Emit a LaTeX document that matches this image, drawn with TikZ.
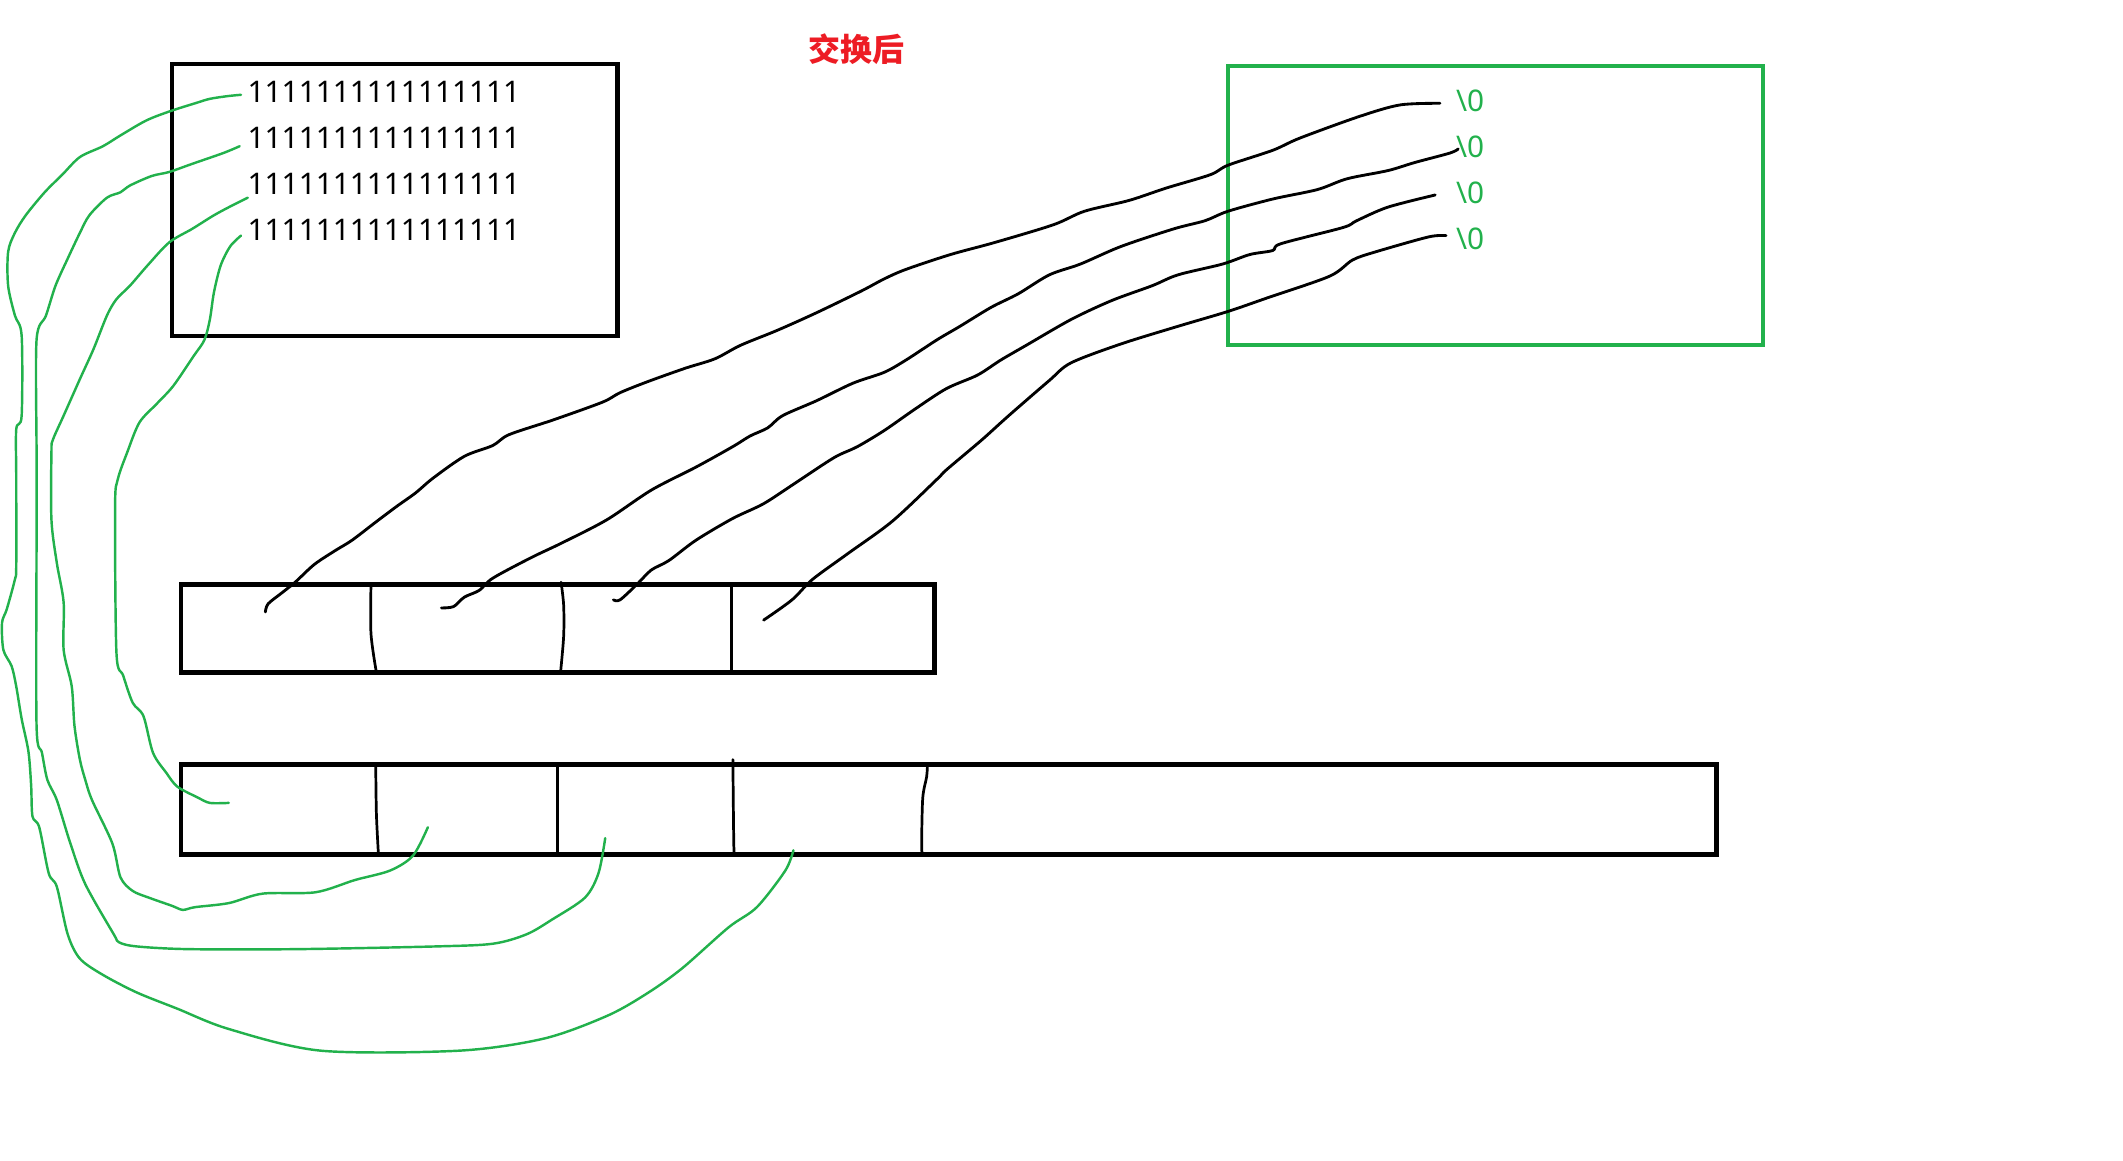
\documentclass[tikz,border=0pt]{standalone}
\usepackage{fontspec}
\newfontfamily\cjk{Noto Sans CJK SC}
\newfontfamily\digfont{Noto Sans}
\usetikzlibrary{fit}
\definecolor{pgreen}{RGB}{34,177,76}
\definecolor{pred}{RGB}{237,28,36}
\tikzset{
  box/.style={draw, line width=1.6pt, inner sep=0pt, outer sep=0pt},
  blackbox/.style={box, draw=black},
  greenbox/.style={box, draw=pgreen},
  divider/.style={draw=black, line width=1pt, line cap=round, line join=round},
  blackcurve/.style={draw=black, line width=1.05pt, line cap=round, line join=round},
  greencurve/.style={draw=pgreen, line width=0.9pt, line cap=round, line join=round},
  ones/.style={font=\digfont\fontsize{11pt}{12pt}\selectfont, text=black, anchor=base west, inner sep=0pt},
  zeros/.style={font=\digfont\fontsize{11pt}{12pt}\selectfont, text=pgreen, anchor=base west, inner sep=0pt},
  titlestyle/.style={font=\cjk\bfseries\fontsize{11.8pt}{14pt}\selectfont, text=pred, inner sep=0pt}
}
\begin{document}
\begin{tikzpicture}[x=0.5pt, y=-0.5pt]
\useasboundingbox (0,0) rectangle (1568,857);
% title
\node[titlestyle] (title) at (632.5,36) {交换后};
% boxes
\node[blackbox, fit={(127,47.5) (456,248)}] (topbox) {};
\node[greenbox, fit={(906.8,48.7) (1302.3,254.8)}] (greenbox) {};
\node[blackbox, fit={(133.8,431.7) (690.2,496.7)}] (midbox) {};
\node[blackbox, fit={(133.8,564.6) (1267.7,631)}] (botbox) {};
% dividers middle box
\draw[divider] plot[smooth] coordinates {(274,431.7) (274,468) (278,496.7)};
\draw[divider] plot[smooth] coordinates {(414.4,430) (416.3,447) (416.3,470) (414,496.7)};
\draw[divider] (540.2,431.7) -- (540.2,496.7);
% dividers bottom box
\draw[divider] plot[smooth] coordinates {(277.5,564.6) (278,601) (279.5,631)};
\draw[divider] (411.6,564.6) -- (411.6,631);
\draw[divider] plot[smooth] coordinates {(541.3,561) (542,625) (543,631)};
\draw[divider] plot[smooth] coordinates {(685,564.6) (684.4,573.6) (681.5,589.6) (680.7,625.3) (681.5,631)};
% texts
\foreach \i/\y in {1/75.8, 2/109.8, 3/143.8, 4/177.8}{
  \node[ones] (l\i) at (182.5,\y) {1111111111111111};
}
\foreach \i/\y in {1/82.5, 2/116.5, 3/150.5, 4/184.5}{
  \node[zeros] (z\i) at (1075,\y) {\textbackslash 0};
}
% black curves
\draw[blackcurve] plot[smooth, tension=0.5] coordinates {(196,452) (198,446) (208,438) (218,430) (232,417) (247,407) (260,399) (277,386) (293,374) (307,364) (320,353) (343,337) (364,329) (376,321) (409,310) (445,297) (458,290) (478,282) (506,272) (528,265) (547,255) (574,244) (603,231) (636,215) (653,206) (669,199) (702,188) (735,179) (778,166) (801,156) (834,148) (861,139) (894,129) (907,122) (940,111) (960,102) (1004,86) (1034,77.5) (1063.5,76.3)};
\draw[blackcurve] plot[smooth, tension=0.5] coordinates {(326,449) (335,448) (343,441) (354,436) (364,427) (392,412) (415,401) (448,384) (481,362) (514,345) (541,330) (554,322) (567,316) (578,307) (603,296) (630,283) (653,275) (669,266) (692,251) (709,241) (732,227) (752,217) (775,203) (798,195) (828,182) (867,169) (890,163) (907,156) (940,147) (973,140) (995,132) (1025,126) (1045,120) (1071,113) (1077,110)};
\draw[blackcurve] plot[smooth, tension=0.5] coordinates {(453,443) (458,443) (471,431) (481,421) (494,414) (514,399) (541,383) (564,372) (587,357) (616,338) (633,330) (653,318) (676,302) (699,287) (722,277) (739,266) (758,255) (791,236) (821,222) (851,211) (870,203) (903,195) (923,188) (940,185) (946,180) (992,168) (1002,163) (1025,153) (1060,144)};
\draw[blackcurve] plot[smooth, tension=0.5] coordinates {(564,458) (585,443) (600,428) (626,409) (659,385) (692,354) (699,347) (725,325) (745,307) (775,281) (791,268) (828,254) (870,241) (907,230) (936,220) (982,204) (999,192) (1016,186) (1055,175) (1068,174)};
% green curves
\draw[greencurve] plot[smooth, tension=0.5] coordinates {(178,70) (168,71) (155,73) (145,76) (126,82) (108,89) (89,100) (76,108) (59,116) (46,129) (33,142) (19,159) (11,172) (6,186) (6,211) (11,233) (16,248) (16,307) (12,317) (12,354) (12,418) (11,428) (5,450) (1.5,460) (2.5,480) (8.6,492) (12,507) (16,531) (21,555) (23,580) (24,603) (29,611) (36,645) (42,655) (50,690) (59,708) (76,720) (101,733) (131,745) (169,760) (237,776) (339,776) (402,767) (449,750) (479,733) (504,715) (538,685) (559,670) (580,643) (586,628)};
\draw[greencurve] plot[smooth, tension=0.5] coordinates {(177,108) (165,113) (142,121) (125,127) (112,130) (96,137) (89,142) (79,146) (66,159) (59,172) (50,191) (41,211) (34,233) (27,251) (27,334) (27,396) (27,536) (31,556) (35,576) (42,591) (52,623) (63,653) (84,690) (88,696) (101,699) (139,701) (220,701) (322,699) (364,697) (389,690) (408,679) (432,663) (442,645) (447,619)};
\draw[greencurve] plot[smooth, tension=0.5] coordinates {(183,146) (171,152) (158,159) (142,169) (125,179) (109,196) (96,211) (86,221) (79,233) (69,258) (59,280) (47,307) (39,325) (38,334) (38,384) (42,416) (47,445) (47,480) (53,507) (55,536) (59,561) (63,576) (68,591) (83,623) (89,648) (98,658) (110,663) (127,669) (135,672) (144,670) (169,667) (194,660) (233,659) (262,650) (288,643) (305,632) (316,611)};
\draw[greencurve] plot[smooth, tension=0.5] coordinates {(178,174) (170,182) (163,196) (158,216) (155,236) (151,251) (143,263) (128,285) (116,298) (103,312) (94,334) (87,354) (85,374) (86,482) (91,499) (98,519) (106,529) (113,556) (123,571) (131,581) (146,589) (155,593) (169,593)};
\end{tikzpicture}
\end{document}
